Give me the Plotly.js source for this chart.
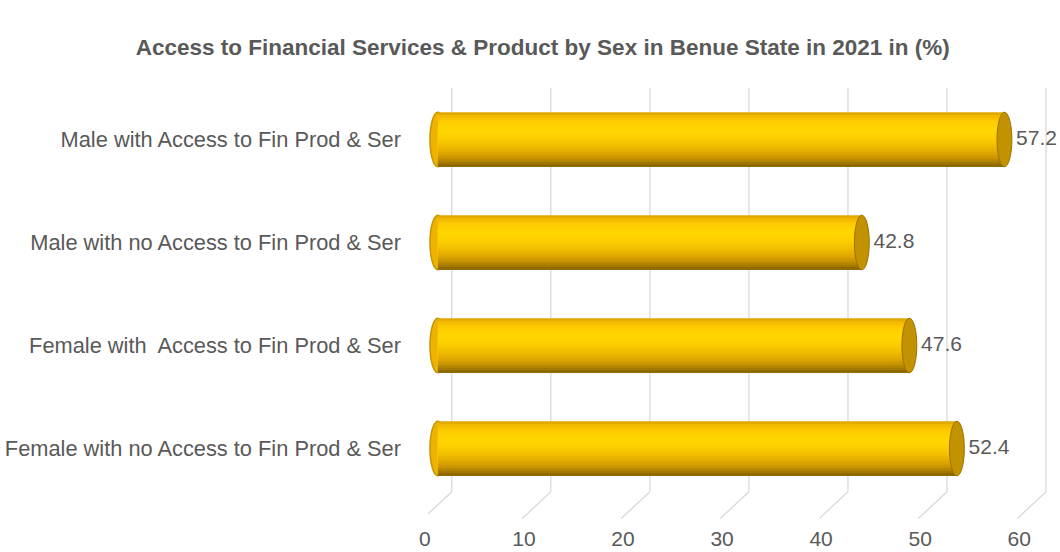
<!DOCTYPE html>
<html>
<head>
<meta charset="utf-8">
<script src="https://cdn.plot.ly/plotly-3.0.1.min.js"></script>
<style>html,body{margin:0;padding:0;background:#fff;}#chart{width:1060px;height:552px;}</style>
</head>
<body>
<div id="chart"></div>
<script>
// ---- data ----
const categories = [
  "Male with Access to Fin Prod & Ser",
  "Male with no Access to Fin Prod & Ser",
  "Female with  Access to Fin Prod & Ser",
  "Female with no Access to Fin Prod & Ser"
];
const values = [57.2, 42.8, 47.6, 52.4];
const tickValues = [0, 10, 20, 30, 40, 50, 60];
const tickLabels = ["0", "10", "20", "30", "40", "50", "60"];
const chartTitle = "Access to Financial Services & Product by Sex in Benue State in 2021 in (%)";

// ---- styling ----
const TXT = "#595959";
const FONT = "Liberation Sans, Arial, sans-serif";
const half = 0.265; // half bar thickness (category units)

// cylinder shading: gradient stops (0 = top edge, 1 = bottom edge)
const stops = [
  [0.00, [217, 160, 0]],
  [0.07, [242, 186, 0]],
  [0.17, [255, 203, 0]],
  [0.32, [255, 215, 0]],
  [0.47, [252, 207, 0]],
  [0.62, [242, 188, 0]],
  [0.74, [224, 168, 0]],
  [0.84, [200, 148, 0]],
  [0.92, [168, 124, 0]],
  [1.00, [130, 94, 0]]
];
function colorAt(t) {
  for (let i = 1; i < stops.length; i++) {
    if (t <= stops[i][0]) {
      const a = stops[i - 1], b = stops[i];
      const f = (t - a[0]) / (b[0] - a[0]);
      const c = a[1].map((v, k) => Math.round(v + (b[1][k] - v) * f));
      return "rgb(" + c.join(",") + ")";
    }
  }
  return "rgb(" + stops[stops.length - 1][1].join(",") + ")";
}
// each slice runs from its own top edge down to the bar's bottom edge;
// later slices are painted over earlier ones, leaving a band of each colour
const nSlices = 22;
const traces = [];
for (let k = 0; k < nSlices; k++) {
  const t0 = k / nSlices;
  traces.push({
    type: "bar",
    orientation: "h",
    x: values,
    y: categories,
    width: 2 * half * (1 - t0),
    offset: -half + t0 * 2 * half,
    marker: {color: colorAt((k + 0.5) / nSlices), line: {width: 0}},
    hoverinfo: k === 0 ? "x+y" : "skip",
    showlegend: false,
    textposition: "none"
  });
}

// value labels
traces.push({
  type: "scatter",
  mode: "text",
  x: values,
  y: categories,
  text: values.map(v => "\u00a0\u00a0" + v.toFixed(1)),
  textposition: "middle right",
  textfont: {family: FONT, size: 21, color: TXT},
  hoverinfo: "skip",
  showlegend: false,
  cliponaxis: false
});

// gridlines (back wall) with floor diagonals
const backShift = 1.4, frontShift = -1.5;
const shapes = [];
tickValues.forEach(t => {
  shapes.push({type: "line", layer: "below", xref: "x", yref: "paper",
    x0: t + backShift, x1: t + backShift, y0: 0.02, y1: 1,
    line: {color: "#D9D9D9", width: 1.3}});
  shapes.push({type: "line", layer: "below", xref: "x", yref: "paper",
    x0: t + backShift, x1: t + frontShift, y0: 0.02, y1: -0.045,
    line: {color: "#D9D9D9", width: 1.3}});
});
// cylinder caps
values.forEach((v, i) => {
  shapes.push({type: "circle", layer: "below", xref: "x", yref: "y",
    x0: -0.8, x1: 0.8, y0: i - half, y1: i + half,
    fillcolor: "#EDB300", line: {color: "#C89400", width: 1.5}});
  shapes.push({type: "circle", layer: "above", xref: "x", yref: "y",
    x0: v - 0.75, x1: v + 0.75, y0: i - half, y1: i + half,
    fillcolor: "#C29200", line: {color: "#9A7200", width: 1}});
});

const layout = {
  width: 1060,
  height: 552,
  paper_bgcolor: "#ffffff",
  plot_bgcolor: "rgba(0,0,0,0)",
  barmode: "overlay",
  margin: {l: 428, r: 8, t: 88, b: 52},
  title: {
    text: chartTitle,
    x: 0.512, xanchor: "center",
    y: 1 - 47 / 552, yanchor: "middle", yref: "container",
    font: {family: FONT, size: 22.5, color: TXT, weight: "bold"}
  },
  xaxis: {
    range: [-1, 62],
    tickvals: tickValues,
    ticktext: tickLabels,
    showgrid: false,
    zeroline: false,
    showline: false,
    ticks: "",
    ticklabelshift: -13,
    ticklabelstandoff: 24,
    tickfont: {family: FONT, size: 21, color: TXT}
  },
  yaxis: {
    type: "category",
    categoryorder: "array",
    categoryarray: categories,
    autorange: "reversed",
    range: [3.5, -0.5],
    showgrid: false,
    zeroline: false,
    showline: false,
    ticks: "",
    ticklabelstandoff: 26,
    tickfont: {family: FONT, size: 21.8, color: TXT}
  },
  shapes: shapes,
  showlegend: false
};

Plotly.newPlot("chart", traces, layout, {displayModeBar: false, staticPlot: true});
</script>
</body>
</html>
